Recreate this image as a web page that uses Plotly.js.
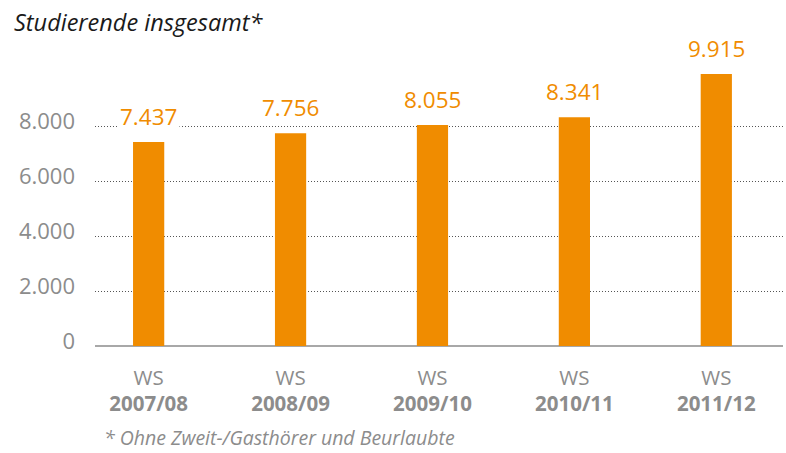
<!DOCTYPE html>
<html>
<head>
<meta charset="utf-8">
<script src="https://cdn.plot.ly/plotly-3.0.1.min.js"></script>
<style>html,body{margin:0;padding:0;background:#fff;}#chart{width:786px;height:453px;}</style>
</head>
<body>
<div id="chart"></div>
<script>
const semesters = ["2007/08", "2008/09", "2009/10", "2010/11", "2011/12"];
const students = [7437, 7756, 8055, 8341, 9915];
const valueLabels = ["7.437", "7.756", "8.055", "8.341", "9.915"];
const tickVals = [0, 2000, 4000, 6000, 8000];
const tickTexts = ["0", "2.000", "4.000", "6.000", "8.000"];

const orange = "#F08C00";
const grey = "#8c8c8c";
const fontFam = "Open Sans, Noto Sans, sans-serif";

const catLabels = semesters.map(s => "WS<br><b>" + s + "</b>");

const trace = {
  type: "bar",
  x: semesters.map((s, i) => i),
  y: students,
  marker: { color: orange, line: { width: 0 } },
  hoverinfo: "none"
};

const annotations = students.map((v, i) => ({
  x: i, y: v, xref: "x", yref: "y",
  text: valueLabels[i],
  showarrow: false,
  yanchor: "bottom",
  yshift: 7,
  bgcolor: "#fff",
  borderpad: 2,
  font: { family: fontFam, size: 22.5, color: orange }
}));
annotations.push({
  xref: "paper", yref: "paper", x: 0.0116, y: -0.318,
  xanchor: "left", yanchor: "middle",
  borderpad: 0,
  text: "<i>* Ohne Zweit-/Gasthörer und Beurlaubte</i>",
  showarrow: false,
  font: { family: fontFam, size: 19.5, color: grey }
});
annotations.push({
  xref: "paper", yref: "paper", x: -0.1206, y: 1.125,
  xanchor: "left", yanchor: "middle",
  text: "<i>Studierende insgesamt*</i>",
  showarrow: false,
  font: { family: fontFam, size: 23.5, color: "#1a1a1a" }
});

const layout = {
  width: 786, height: 453,
  margin: { l: 95, r: 3, t: 58, b: 107 },
  paper_bgcolor: "#fff", plot_bgcolor: "#fff",
  showlegend: false,
  bargap: 0.78,
  xaxis: {
    range: [-0.378, 4.47],
    tickmode: "array",
    tickvals: [0, 1, 2, 3, 4],
    ticktext: catLabels,
    showgrid: false, zeroline: false,
    showline: false, ticks: "",
    ticklabelstandoff: 17,
    tickfont: { family: fontFam, size: 20.5, color: grey },
    fixedrange: true
  },
  yaxis: {
    range: [0, 10500],
    tickmode: "array",
    tickvals: tickVals,
    ticktext: tickTexts,
    showgrid: true,
    gridcolor: "#555",
    griddash: "1px,2px",
    gridwidth: 1,
    zeroline: true, zerolinecolor: "#a8a8a8", zerolinewidth: 2,
    showline: false, ticks: "",
    ticklabelstandoff: 19,
    ticklabelshift: -5,
    tickfont: { family: fontFam, size: 22, color: grey },
    fixedrange: true
  },
  annotations: annotations
};

Plotly.newPlot("chart", [trace], layout, { displayModeBar: false, staticPlot: true });
</script>
</body>
</html>
